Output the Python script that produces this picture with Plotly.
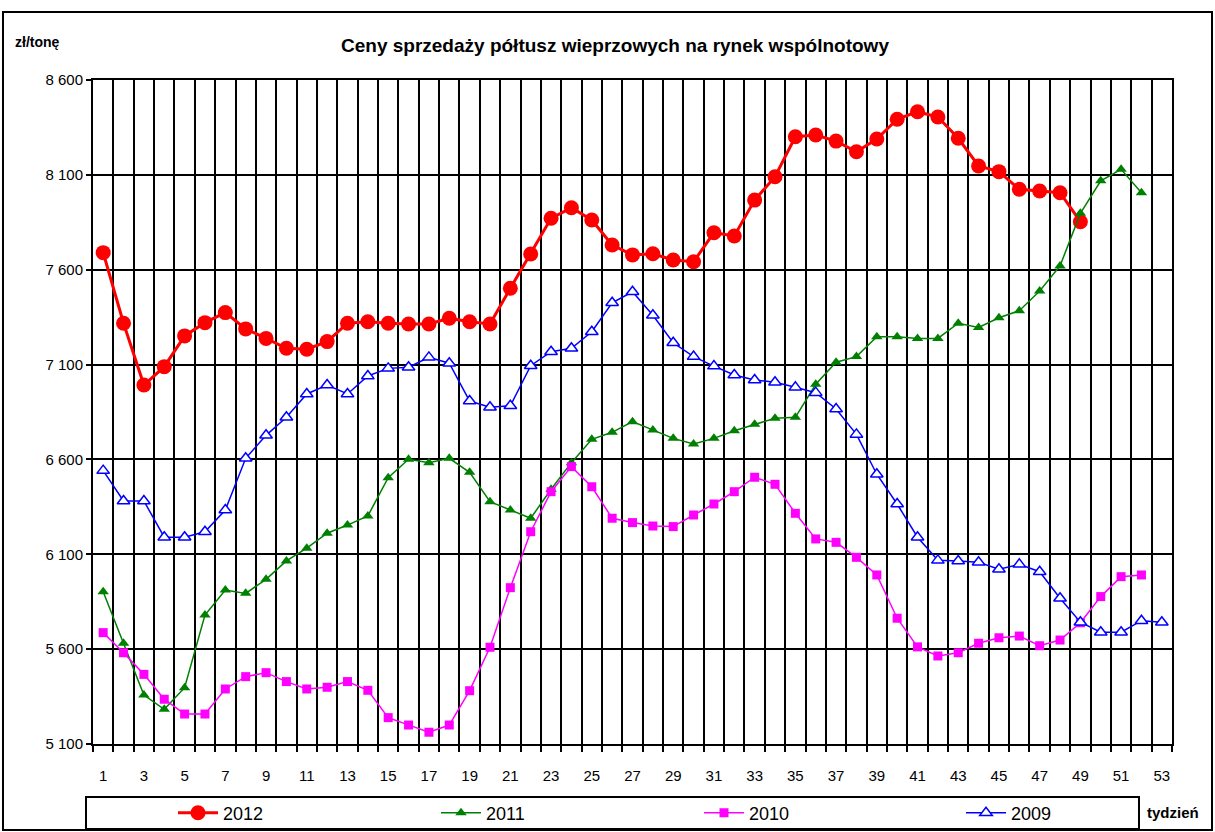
import plotly.graph_objects as go

# tygodnie 1..53
WEEKS = list(range(1, 54))

Y2012 = [7690, 7318, 6992, 7089, 7251, 7321, 7374, 7288, 7238, 7186,
         7181, 7221, 7318, 7326, 7318, 7314, 7314, 7344, 7326, 7314,
         7502, 7683, 7871, 7927, 7862, 7730, 7678, 7684, 7651, 7642,
         7795, 7778, 7967, 8090, 8301, 8310, 8278, 8222, 8289, 8393,
         8433, 8405, 8293, 8147, 8117, 8024, 8015, 8006, 7853]

Y2011 = [5903, 5631, 5358, 5283, 5397, 5780, 5912, 5894, 5968, 6065,
         6132, 6211, 6254, 6302, 6504, 6601, 6583, 6606, 6532, 6377,
         6333, 6290, 6443, 6583, 6706, 6743, 6799, 6755, 6711, 6681,
         6711, 6751, 6785, 6817, 6822, 6996, 7112, 7142, 7247, 7247,
         7238, 7238, 7318, 7296, 7347, 7384, 7488, 7620, 7897, 8069,
         8129, 8006]

Y2010 = [5687, 5581, 5467, 5336, 5258, 5258, 5390, 5455, 5476, 5429,
         5390, 5399, 5429, 5383, 5239, 5200, 5162, 5200, 5381, 5610,
         5924, 6219, 6430, 6562, 6456, 6290, 6267, 6249, 6246, 6307,
         6365, 6430, 6506, 6469, 6316, 6181, 6163, 6084, 5991, 5763,
         5612, 5564, 5581, 5631, 5660, 5669, 5618, 5648, 5739, 5877,
         5982, 5991]

Y2009 = [6541, 6381, 6381, 6190, 6190, 6219, 6333, 6606, 6727, 6822,
         6945, 6992, 6945, 7040, 7080, 7086, 7138, 7107, 6908, 6875,
         6883, 7094, 7168, 7186, 7273, 7426, 7484, 7360, 7215, 7142,
         7092, 7045, 7019, 7007, 6980, 6952, 6866, 6732, 6522, 6365,
         6190, 6068, 6065, 6058, 6021, 6047, 6008, 5868, 5742, 5689,
         5689, 5750, 5742]

Y_TICKS = [5100, 5600, 6100, 6600, 7100, 7600, 8100, 8600]
X_TICKS = list(range(1, 54, 2))

FONT = "Liberation Sans Narrow, Arial Narrow, Liberation Sans, Arial"
PW, PH = 1079, 664  # obszar wykresu w pikselach

fig = go.Figure()
fig.add_trace(go.Scatter(x=WEEKS[:len(Y2012)], y=Y2012, name="2012", mode="lines+markers",
                         line=dict(color="#FF0000", width=3), legend="legend",
                         marker=dict(symbol="circle", size=15, color="#FF0000")))
fig.add_trace(go.Scatter(x=WEEKS[:len(Y2011)], y=Y2011, name="2011", mode="lines+markers",
                         line=dict(color="#008000", width=1.5), legend="legend2",
                         marker=dict(symbol="triangle-up", size=10, color="#008000")))
fig.add_trace(go.Scatter(x=WEEKS[:len(Y2010)], y=Y2010, name="2010", mode="lines+markers",
                         line=dict(color="#FF00FF", width=1.5), legend="legend3",
                         marker=dict(symbol="square", size=9, color="#FF00FF")))
fig.add_trace(go.Scatter(x=WEEKS[:len(Y2009)], y=Y2009, name="2009", mode="lines+markers",
                         line=dict(color="#0000FF", width=1.5), legend="legend4",
                         marker=dict(symbol="triangle-up", size=11, color="white",
                                     line=dict(color="#0000FF", width=1.5))))

fig.update_xaxes(range=[0.5, 53.5], tickvals=X_TICKS, showgrid=False, zeroline=False,
                 showline=True, linecolor="black", linewidth=2, mirror=True,
                 ticks="", ticklabelstandoff=17,
                 tickfont=dict(size=15, color="black", family=FONT),
                 minor=dict(tick0=0.5, dtick=1, showgrid=True, gridcolor="black",
                            gridwidth=1.5, ticks="outside", ticklen=6,
                            tickcolor="black", tickwidth=1.5))
fig.update_yaxes(range=[5100, 8600], tickvals=Y_TICKS,
                 ticktext=[f"{v // 1000} {v % 1000:03d}" for v in Y_TICKS],
                 showgrid=True, gridcolor="black", gridwidth=2, zeroline=False,
                 showline=True, linecolor="black", linewidth=2, mirror=True,
                 ticks="outside", ticklen=5, tickcolor="black", tickwidth=2,
                 tickfont=dict(size=15, color="black", family=FONT))

# ramka całego wykresu i ramka legendy
fig.add_shape(type="rect", xref="paper", yref="paper",
              x0=-90 / PW, x1=1119 / PW, y0=-86 / PH, y1=732 / PH,
              line=dict(color="black", width=2), layer="below")
fig.add_shape(type="rect", xref="paper", yref="paper",
              x0=-7 / PW, x1=1046 / PW, y0=-85 / PH, y1=-53 / PH,
              line=dict(color="black", width=2))

fig.add_annotation(text="<b>Ceny sprzedaży półtusz wieprzowych na rynek wspólnotowy</b>",
                   xref="paper", yref="paper", x=522 / PW, y=699 / PH, yanchor="middle",
                   showarrow=False, font=dict(size=19, family=FONT, color="black"))
fig.add_annotation(text="<b>zł/tonę</b>", xref="paper", yref="paper",
                   x=-80 / PW, y=702 / PH, xanchor="left", yanchor="middle", showarrow=False,
                   font=dict(size=14, family=FONT, color="black"))
fig.add_annotation(text="<b>tydzień</b>", xref="paper", yref="paper",
                   x=1052 / PW, y=-68 / PH, xanchor="left", yanchor="middle", showarrow=False,
                   font=dict(size=15, family=FONT, color="black"))

leg = dict(orientation="h", xanchor="left", y=-69 / PH, yanchor="middle", itemwidth=40,
           bgcolor="rgba(0,0,0,0)", font=dict(size=18, family=FONT, color="black"))
fig.update_layout(
    width=1215, height=832,
    margin=dict(l=93, r=43, t=80, b=88, autoexpand=False),
    paper_bgcolor="white", plot_bgcolor="white",
    font=dict(family=FONT, color="black"),
    showlegend=True,
    legend=dict(leg, x=(173 - 93) / PW),
    legend2=dict(leg, x=(436 - 93) / PW),
    legend3=dict(leg, x=(699 - 93) / PW),
    legend4=dict(leg, x=(961 - 93) / PW),
)

fig.write_html("out.html", config={"displayModeBar": False},
               post_script="document.body.style.margin='0';")
